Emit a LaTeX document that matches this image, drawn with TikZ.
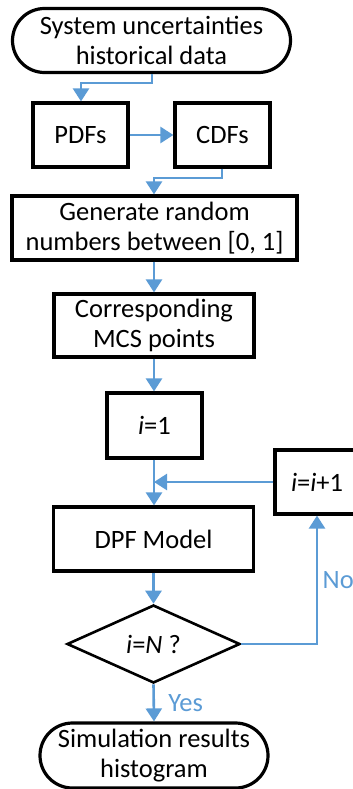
\documentclass[tikz,border=0pt]{standalone}
\usepackage{fontspec}
\setmainfont{Carlito}
\usetikzlibrary{arrows.meta,shapes.misc,shapes.geometric}
\definecolor{flowblue}{RGB}{91,155,213}
\begin{document}
\begin{tikzpicture}[x=1pt,y=-1pt,
  font=\fontsize{26.5}{30}\selectfont,
  box/.style={draw=black,line width=3.2pt,align=center,inner sep=0pt,fill=white},
  term/.style={box,rounded rectangle},
  dec/.style={draw=black,line width=2.6pt,diamond,inner sep=0pt,aspect=2.2},
  flow/.style={draw=flowblue,line width=2.6pt,-{Triangle[width=16pt,length=13pt]}},
  lab/.style={text=flowblue}]
\useasboundingbox (0,0) rectangle (353,789);
\node[term,minimum width=278pt,minimum height=64pt] (start) at (151.5,40.5) {System uncertainties\\historical data};
\node[box,minimum width=95pt,minimum height=64pt] (pdf) at (80.5,135) {PDFs};
\node[box,minimum width=95pt,minimum height=64pt] (cdf) at (222.5,135) {CDFs};
\node[box,minimum width=285pt,minimum height=64pt] (gen) at (154.5,228) {Generate random\\numbers between [0, 1]};
\node[box,minimum width=200pt,minimum height=63pt] (mcs) at (154,325.5) {Corresponding\\MCS points};
\node[box,minimum width=95pt,minimum height=65pt] (init) at (154.5,425.5) {\textit{i}=1};
\node[box,minimum width=84pt,minimum height=64pt] (inc) at (317,482) {\textit{i}=\textit{i}+1};
\node[box,minimum width=200pt,minimum height=64pt] (dpf) at (153.5,539) {DPF Model};
\node[dec,minimum width=173pt,minimum height=78pt] (chk) at (153.5,644) {\textit{i}=\textit{N} ?};
\node[term,minimum width=228pt,minimum height=65pt] (end) at (154,755.5) {Simulation results\\histogram};
\coordinate (j1) at (152,83);
\coordinate (j2) at (81,83);
\coordinate (j3) at (222,178);
\coordinate (j4) at (154,178);
\coordinate (merge) at (154,482);
\coordinate (corner) at (317,644);
\draw[flow] (start.south -| j1) -- (j1) -- (j2) -- (pdf.north -| j2);
\draw[flow] (pdf.east) -- (cdf.west);
\draw[flow] (cdf.south -| j3) -- (j3) -- (j4) -- (gen.north -| j4);
\draw[flow] (gen.south -| j4) -- (mcs.north -| j4);
\draw[flow] (mcs.south -| j4) -- (init.north -| j4);
\draw[flow] (init.south -| j4) -- (dpf.north -| j4);
\draw[flow] (inc.west) -- (merge);
\draw[flow] (dpf.south) -- (chk.north);
\draw[flow] (chk.south) -- node[lab,right=10pt,pos=0.5] (yes) {Yes} (end.north);
\draw[flow] (chk.east) -- (corner) -- node[lab,right=1pt,pos=0.5] (no) {No} (inc.south);
\end{tikzpicture}
\end{document}
